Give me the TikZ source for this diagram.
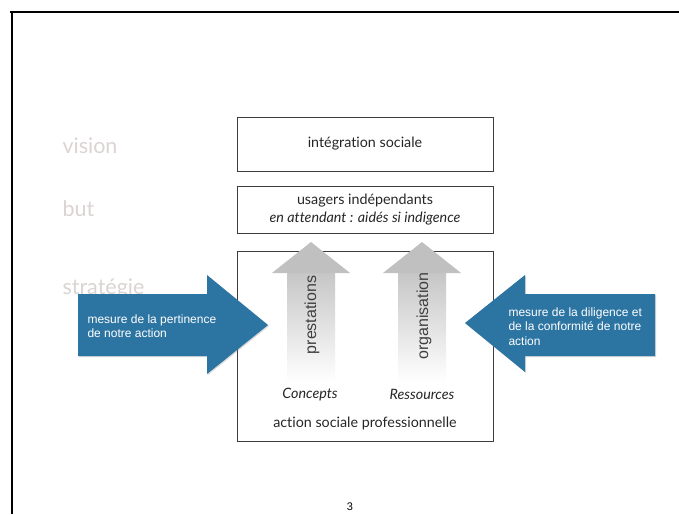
\documentclass[tikz,border=0pt]{standalone}
\usepackage{fontspec}
\setmainfont[Ligatures={NoCommon}]{Lato}
\newfontfamily\helv{Liberation Sans}
\usetikzlibrary{shadows}
\definecolor{blueA}{RGB}{44,116,162}
\definecolor{labgray}{RGB}{218,212,210}
\definecolor{boxline}{RGB}{60,60,60}
\definecolor{headgray}{RGB}{192,192,192}
\tikzset{
  box/.style={draw=boxline, line width=0.8pt, fill=white, minimum width=256, inner sep=0pt},
  boxtext/.style={font=\fontsize{14.3}{17.5}\selectfont, text=black!85},
  sidelabel/.style={font=\fontsize{21.5}{24}\selectfont, text=labgray, anchor=west},
  bluetext/.style={font=\helv\fontsize{12}{14.5}\selectfont, text=white, align=left, anchor=west},
  uptext/.style={font=\helv\fontsize{16}{18}\selectfont, text=black!75, rotate=90},
  bluearrow/.style={fill=blueA, drop shadow={shadow xshift=1pt, shadow yshift=-1pt, opacity=0.3}},
}
\begin{document}
\begin{tikzpicture}[x=1pt,y=-1pt]
\useasboundingbox (0,0) rectangle (679,514);
\fill[white] (0,0) rectangle (679,514);
% frame
\draw[line width=2pt] (10,12) -- (679,12);
\draw[line width=2pt] (12,11) -- (12,514);
% side labels
\node[sidelabel] (lvision) at (59,146) {vision};
\node[sidelabel] (lbut) at (59,209) {but};
\node[sidelabel] (lstrat) at (59,289) {stratégie};
% boxes
\node[box, minimum height=54] (vis) at (365,144) {};
\node[boxtext] (vist) at (vis.center) {intégration sociale};
\node[box, minimum height=47] (butb) at (365,209.5) {};
\node[boxtext, align=center] (butt) at (butb.center) {usagers indépendants\\\itshape en attendant : aidés si indigence};
\node[box, minimum height=190] (strat) at (365,346) {};
% gray arrows
\foreach \cx/\nm in {311/a, 422/b}{
  \shade[top color=headgray!90, bottom color=white] (\cx-24,273) rectangle (\cx+24,382);
  \fill[headgray] (\cx-39,273) -- (\cx,242) -- (\cx+39,273) -- cycle;
}
\node[uptext] (prest) at (312,315) {prestations};
\node[uptext] (orga) at (424,316) {organisation};
\node[boxtext, font=\itshape\fontsize{14.3}{17}\selectfont] (conc) at (310,395) {Concepts};
\node[boxtext, font=\itshape\fontsize{14.3}{17}\selectfont] (ress) at (422,394) {Ressources};
\node[boxtext] (asp) at (365,423) {action sociale professionnelle};
% blue arrows
\fill[bluearrow] (78,294) -- (207,294) -- (207,275) -- (268,325) -- (207,374) -- (207,356) -- (78,356) -- cycle;
\fill[bluearrow] (655,294) -- (525,294) -- (525,275) -- (465,323) -- (525,372) -- (525,356) -- (655,356) -- cycle;
\node[bluetext] (lt) at (84,326) {mesure de la pertinence\\de notre action};
\node[bluetext] (rt) at (505,326.5) {mesure de la diligence et\\de la conformité de notre\\action};
% page number
\node[font=\helv\fontsize{11}{12}\selectfont] (pg) at (350,507) {3};
\end{tikzpicture}
\end{document}
